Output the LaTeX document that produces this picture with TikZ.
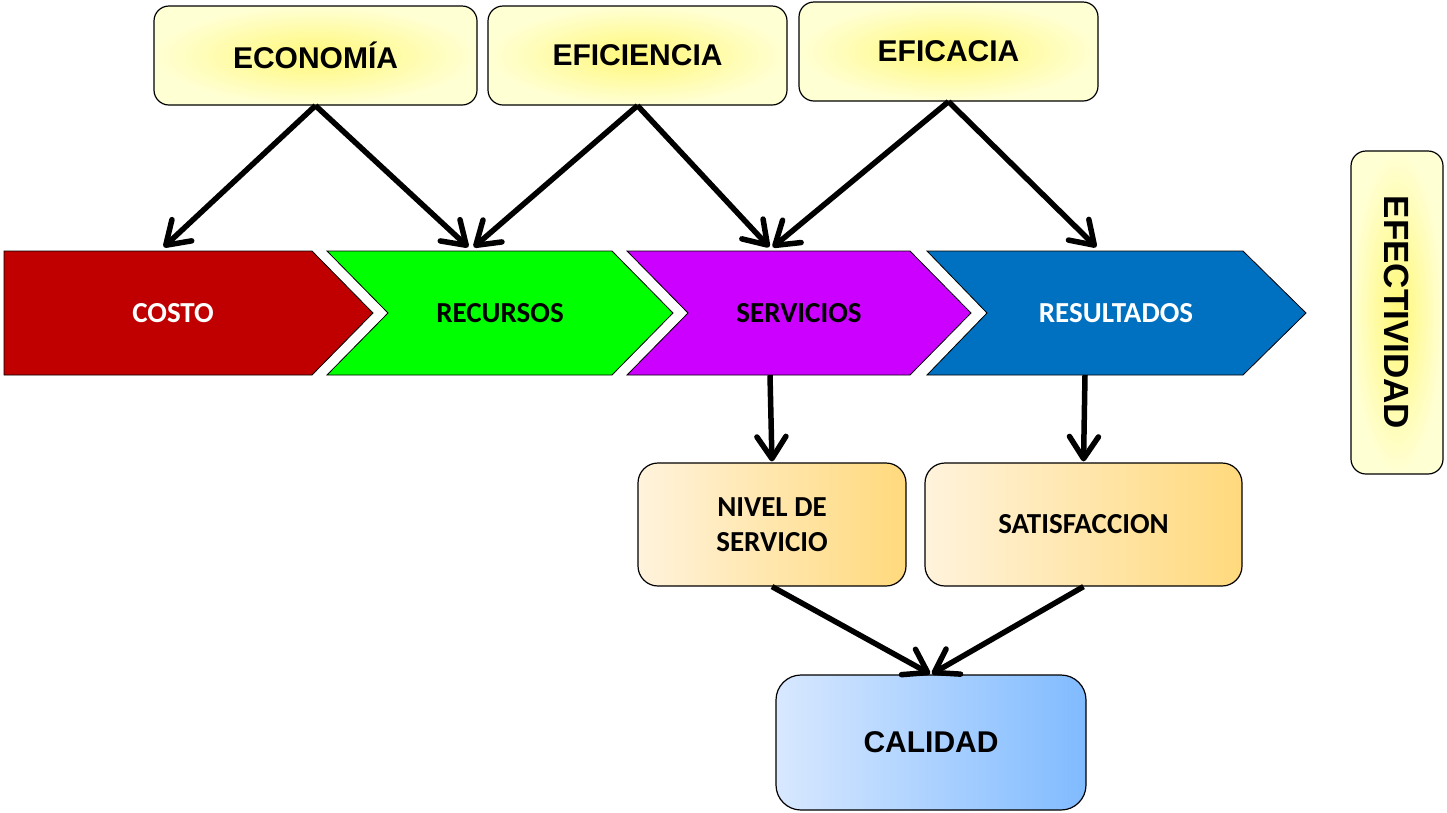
\documentclass[tikz,border=0pt]{standalone}
\usepackage{fontspec}
\setmainfont{Liberation Sans}
\newfontfamily\calib{Carlito}
\usetikzlibrary{arrows.meta}
\definecolor{topin}{HTML}{FFF878}
\definecolor{topout}{HTML}{FFFFD4}
\definecolor{orl}{HTML}{FFF3DC}
\definecolor{orr}{HTML}{FFD97C}
\definecolor{bll}{HTML}{D8E8FF}
\definecolor{blr}{HTML}{80BBFF}
\definecolor{cred}{HTML}{C00000}
\definecolor{cgreen}{HTML}{00FF00}
\definecolor{cpurple}{HTML}{CC00FF}
\definecolor{cblue}{HTML}{0070C0}
\tikzset{
  topbox/.style={draw=black, line width=1.2pt, rounded corners=15pt, inner color=topin, outer color=topout,
    font=\fontsize{30}{34}\selectfont\bfseries, minimum height=99pt, inner sep=0pt},
  orbox/.style={draw=black, line width=1.2pt, rounded corners=20pt, left color=orl, right color=orr,
    font=\calib\fontsize{29}{35}\selectfont\bfseries, minimum height=123pt, align=center, inner sep=0pt},
  chevtext/.style={font=\calib\fontsize{29}{34}\selectfont\bfseries, minimum height=124pt, minimum width=280pt, inner sep=0pt},
  chev/.style={draw=black, line width=0.8pt},
  arr/.style={line width=5.5pt, -{Straight Barb[length=22pt,width=29pt,round]}, shorten >=1pt},
}
\begin{document}
\begin{tikzpicture}[x=1pt,y=-1pt]
\useasboundingbox (0,0) rectangle (1447,812);
\fill[white] (0,0) rectangle (1447,812);
% chevrons
\path[chev, fill=cred] (4,251) -- (312,251) -- (373,313) -- (312,375) -- (4,375) -- cycle;
\path[chev, fill=cgreen] (327,251) -- (612,251) -- (673,313) -- (612,375) -- (327,375) -- (388,313) -- cycle;
\path[chev, fill=cpurple] (627,251) -- (910,251) -- (971,313) -- (910,375) -- (627,375) -- (688,313) -- cycle;
\path[chev, fill=cblue] (927,251) -- (1243,251) -- (1306,313) -- (1243,375) -- (927,375) -- (987,313) -- cycle;
\node[chevtext, text=white] (costo) at (173,313) {COSTO};
\node[chevtext, text=black] (recursos) at (500,313) {RECURSOS};
\node[chevtext, text=black] (servicios) at (799,313) {SERVICIOS};
\node[chevtext, text=white] (resultados) at (1116,313) {RESULTADOS};
% top boxes
\node[topbox, minimum width=323pt] (eco) at (315.5,55.5) {ECONOMÍA};
\node[topbox, minimum width=299pt] (efi) at (637.5,55.5) {EFICIENCIA};
\node[topbox, minimum width=299pt] (efa) at (948.5,51.5) {EFICACIA};
\node[topbox, minimum width=323pt, minimum height=92pt, rotate=-90, font=\fontsize{35}{38}\selectfont\bfseries] (efe) at (1397,312.5) {EFECTIVIDAD};
% lower boxes
\node[orbox, minimum width=268pt] (nivel) at (772,524.5) {NIVEL DE\\SERVICIO};
\node[orbox, minimum width=317pt] (satis) at (1083.5,524.5) {SATISFACCION};
\node[draw=black, line width=1.2pt, rounded corners=25pt, left color=bll, right color=blr,
  minimum width=310pt, minimum height=135pt, inner sep=0pt, font=\fontsize{30}{34}\selectfont\bfseries] (calidad) at (931,742.5) {CALIDAD};
% connectors
\draw[arr] (eco.south) -- ([xshift=-10pt,yshift=3pt]costo.north);
\draw[arr] (eco.south) -- ([xshift=-31pt,yshift=3pt]recursos.north);
\draw[arr] (efi.south) -- ([xshift=-27pt,yshift=3pt]recursos.north);
\draw[arr] (efi.south) -- ([xshift=-29pt,yshift=3pt]servicios.north);
\draw[arr] (efa.south) -- ([xshift=-27pt,yshift=3pt]servicios.north);
\draw[arr] (efa.south) -- ([xshift=-19pt,yshift=3pt]resultados.north);
\draw[arr] ([xshift=-29pt]servicios.south) -- (nivel.north);
\draw[arr] ([xshift=-31pt]resultados.south) -- (satis.north);
\draw[arr] (nivel.south) -- (calidad.north);
\draw[arr] (satis.south) -- (calidad.north);
\end{tikzpicture}
\end{document}
